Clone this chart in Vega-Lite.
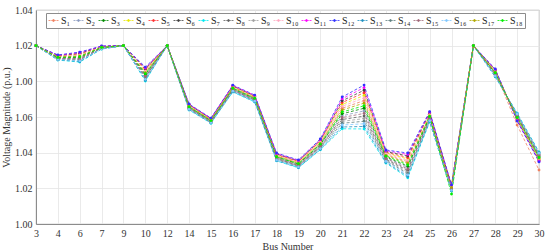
{
"$schema": "https://vega.github.io/schema/vega-lite/v6.json",
"width": 503, "height": 214,
"autosize": "none",
"padding": {"left": 36, "top": 10, "right": 11, "bottom": 28},
"config": {
  "view": {"stroke": "#8c8c8c", "strokeWidth": 0.8},
  "font": "Liberation Serif",
  "axis": {"labelFont": "Liberation Serif", "titleFont": "Liberation Serif", "labelFontSize": 10, "titleFontSize": 10, "labelColor": "#333", "titleColor": "#333", "titleFontWeight": "normal", "gridColor": "#e4e4e4", "gridWidth": 0.8, "domainColor": "#8c8c8c", "ticks": false, "labelPadding": 4}
},
"data": {"values": [
{"s":"S₁","b":3,"v":1.1},{"s":"S₁","b":4,"v":1.0938},{"s":"S₁","b":6,"v":1.0944},{"s":"S₁","b":7,"v":1.0992},{"s":"S₁","b":9,"v":1.1},{"s":"S₁","b":10,"v":1.0852},{"s":"S₁","b":12,"v":1.1},{"s":"S₁","b":14,"v":1.0661},{"s":"S₁","b":15,"v":1.0584},{"s":"S₁","b":16,"v":1.0765},{"s":"S₁","b":17,"v":1.0709},{"s":"S₁","b":18,"v":1.0382},{"s":"S₁","b":19,"v":1.0343},{"s":"S₁","b":20,"v":1.0455},{"s":"S₁","b":21,"v":1.0649},{"s":"S₁","b":22,"v":1.0692},{"s":"S₁","b":23,"v":1.0389},{"s":"S₁","b":24,"v":1.0349},{"s":"S₁","b":25,"v":1.061},{"s":"S₁","b":26,"v":1.0207},{"s":"S₁","b":27,"v":1.1},{"s":"S₁","b":28,"v":1.0853},{"s":"S₁","b":29,"v":1.0555},{"s":"S₁","b":30,"v":1.0303},
{"s":"S₂","b":3,"v":1.1},{"s":"S₂","b":4,"v":1.0931},{"s":"S₂","b":6,"v":1.0931},{"s":"S₂","b":7,"v":1.0988},{"s":"S₂","b":9,"v":1.1},{"s":"S₂","b":10,"v":1.0834},{"s":"S₂","b":12,"v":1.1},{"s":"S₂","b":14,"v":1.0653},{"s":"S₂","b":15,"v":1.0577},{"s":"S₂","b":16,"v":1.0756},{"s":"S₂","b":17,"v":1.07},{"s":"S₂","b":18,"v":1.0372},{"s":"S₂","b":19,"v":1.0333},{"s":"S₂","b":20,"v":1.0441},{"s":"S₂","b":21,"v":1.0607},{"s":"S₂","b":22,"v":1.0634},{"s":"S₂","b":23,"v":1.0372},{"s":"S₂","b":24,"v":1.0316},{"s":"S₂","b":25,"v":1.0596},{"s":"S₂","b":26,"v":1.0199},{"s":"S₂","b":27,"v":1.1},{"s":"S₂","b":28,"v":1.0843},{"s":"S₂","b":29,"v":1.0603},{"s":"S₂","b":30,"v":1.038},
{"s":"S₃","b":3,"v":1.1},{"s":"S₃","b":4,"v":1.0933},{"s":"S₃","b":6,"v":1.0934},{"s":"S₃","b":7,"v":1.0989},{"s":"S₃","b":9,"v":1.1},{"s":"S₃","b":10,"v":1.0839},{"s":"S₃","b":12,"v":1.1},{"s":"S₃","b":14,"v":1.0655},{"s":"S₃","b":15,"v":1.0579},{"s":"S₃","b":16,"v":1.0758},{"s":"S₃","b":17,"v":1.0702},{"s":"S₃","b":18,"v":1.0375},{"s":"S₃","b":19,"v":1.0336},{"s":"S₃","b":20,"v":1.0445},{"s":"S₃","b":21,"v":1.0618},{"s":"S₃","b":22,"v":1.0649},{"s":"S₃","b":23,"v":1.0376},{"s":"S₃","b":24,"v":1.0324},{"s":"S₃","b":25,"v":1.0599},{"s":"S₃","b":26,"v":1.0201},{"s":"S₃","b":27,"v":1.1},{"s":"S₃","b":28,"v":1.0846},{"s":"S₃","b":29,"v":1.06},{"s":"S₃","b":30,"v":1.0376},
{"s":"S₄","b":3,"v":1.1},{"s":"S₄","b":4,"v":1.0941},{"s":"S₄","b":6,"v":1.0951},{"s":"S₄","b":7,"v":1.0994},{"s":"S₄","b":9,"v":1.1},{"s":"S₄","b":10,"v":1.0862},{"s":"S₄","b":12,"v":1.1},{"s":"S₄","b":14,"v":1.0665},{"s":"S₄","b":15,"v":1.0587},{"s":"S₄","b":16,"v":1.077},{"s":"S₄","b":17,"v":1.0714},{"s":"S₄","b":18,"v":1.0388},{"s":"S₄","b":19,"v":1.0349},{"s":"S₄","b":20,"v":1.0463},{"s":"S₄","b":21,"v":1.067},{"s":"S₄","b":22,"v":1.0721},{"s":"S₄","b":23,"v":1.0398},{"s":"S₄","b":24,"v":1.0365},{"s":"S₄","b":25,"v":1.0616},{"s":"S₄","b":26,"v":1.0211},{"s":"S₄","b":27,"v":1.1},{"s":"S₄","b":28,"v":1.0859},{"s":"S₄","b":29,"v":1.0589},{"s":"S₄","b":30,"v":1.0362},
{"s":"S₅","b":3,"v":1.1},{"s":"S₅","b":4,"v":1.0943},{"s":"S₅","b":6,"v":1.0954},{"s":"S₅","b":7,"v":1.0995},{"s":"S₅","b":9,"v":1.1},{"s":"S₅","b":10,"v":1.0866},{"s":"S₅","b":12,"v":1.1},{"s":"S₅","b":14,"v":1.0667},{"s":"S₅","b":15,"v":1.0589},{"s":"S₅","b":16,"v":1.0772},{"s":"S₅","b":17,"v":1.0716},{"s":"S₅","b":18,"v":1.039},{"s":"S₅","b":19,"v":1.0351},{"s":"S₅","b":20,"v":1.0466},{"s":"S₅","b":21,"v":1.0681},{"s":"S₅","b":22,"v":1.0736},{"s":"S₅","b":23,"v":1.0402},{"s":"S₅","b":24,"v":1.0373},{"s":"S₅","b":25,"v":1.062},{"s":"S₅","b":26,"v":1.0213},{"s":"S₅","b":27,"v":1.1},{"s":"S₅","b":28,"v":1.0861},{"s":"S₅","b":29,"v":1.0586},{"s":"S₅","b":30,"v":1.0359},
{"s":"S₆","b":3,"v":1.1},{"s":"S₆","b":4,"v":1.0945},{"s":"S₆","b":6,"v":1.0957},{"s":"S₆","b":7,"v":1.0996},{"s":"S₆","b":9,"v":1.1},{"s":"S₆","b":10,"v":1.0871},{"s":"S₆","b":12,"v":1.1},{"s":"S₆","b":14,"v":1.0669},{"s":"S₆","b":15,"v":1.0591},{"s":"S₆","b":16,"v":1.0774},{"s":"S₆","b":17,"v":1.0718},{"s":"S₆","b":18,"v":1.0393},{"s":"S₆","b":19,"v":1.0354},{"s":"S₆","b":20,"v":1.047},{"s":"S₆","b":21,"v":1.0691},{"s":"S₆","b":22,"v":1.075},{"s":"S₆","b":23,"v":1.0406},{"s":"S₆","b":24,"v":1.0382},{"s":"S₆","b":25,"v":1.0623},{"s":"S₆","b":26,"v":1.0215},{"s":"S₆","b":27,"v":1.1},{"s":"S₆","b":28,"v":1.0864},{"s":"S₆","b":29,"v":1.0584},{"s":"S₆","b":30,"v":1.0355},
{"s":"S₇","b":3,"v":1.1},{"s":"S₇","b":4,"v":1.0919},{"s":"S₇","b":6,"v":1.0908},{"s":"S₇","b":7,"v":1.0981},{"s":"S₇","b":9,"v":1.1},{"s":"S₇","b":10,"v":1.0802},{"s":"S₇","b":12,"v":1.1},{"s":"S₇","b":14,"v":1.0639},{"s":"S₇","b":15,"v":1.0565},{"s":"S₇","b":16,"v":1.074},{"s":"S₇","b":17,"v":1.0684},{"s":"S₇","b":18,"v":1.0354},{"s":"S₇","b":19,"v":1.0315},{"s":"S₇","b":20,"v":1.0416},{"s":"S₇","b":21,"v":1.0534},{"s":"S₇","b":22,"v":1.0533},{"s":"S₇","b":23,"v":1.0342},{"s":"S₇","b":24,"v":1.0259},{"s":"S₇","b":25,"v":1.0572},{"s":"S₇","b":26,"v":1.0185},{"s":"S₇","b":27,"v":1.1},{"s":"S₇","b":28,"v":1.0825},{"s":"S₇","b":29,"v":1.0622},{"s":"S₇","b":30,"v":1.0404},
{"s":"S₈","b":3,"v":1.1},{"s":"S₈","b":4,"v":1.0928},{"s":"S₈","b":6,"v":1.0924},{"s":"S₈","b":7,"v":1.0986},{"s":"S₈","b":9,"v":1.1},{"s":"S₈","b":10,"v":1.0825},{"s":"S₈","b":12,"v":1.1},{"s":"S₈","b":14,"v":1.0649},{"s":"S₈","b":15,"v":1.0574},{"s":"S₈","b":16,"v":1.0751},{"s":"S₈","b":17,"v":1.0695},{"s":"S₈","b":18,"v":1.0367},{"s":"S₈","b":19,"v":1.0328},{"s":"S₈","b":20,"v":1.0434},{"s":"S₈","b":21,"v":1.0586},{"s":"S₈","b":22,"v":1.0605},{"s":"S₈","b":23,"v":1.0363},{"s":"S₈","b":24,"v":1.03},{"s":"S₈","b":25,"v":1.0589},{"s":"S₈","b":26,"v":1.0195},{"s":"S₈","b":27,"v":1.1},{"s":"S₈","b":28,"v":1.0838},{"s":"S₈","b":29,"v":1.0608},{"s":"S₈","b":30,"v":1.0387},
{"s":"S₉","b":3,"v":1.1},{"s":"S₉","b":4,"v":1.0926},{"s":"S₉","b":6,"v":1.0921},{"s":"S₉","b":7,"v":1.0985},{"s":"S₉","b":9,"v":1.1},{"s":"S₉","b":10,"v":1.082},{"s":"S₉","b":12,"v":1.1},{"s":"S₉","b":14,"v":1.0647},{"s":"S₉","b":15,"v":1.0572},{"s":"S₉","b":16,"v":1.0749},{"s":"S₉","b":17,"v":1.0693},{"s":"S₉","b":18,"v":1.0364},{"s":"S₉","b":19,"v":1.0325},{"s":"S₉","b":20,"v":1.043},{"s":"S₉","b":21,"v":1.0576},{"s":"S₉","b":22,"v":1.0591},{"s":"S₉","b":23,"v":1.0359},{"s":"S₉","b":24,"v":1.0291},{"s":"S₉","b":25,"v":1.0586},{"s":"S₉","b":26,"v":1.0193},{"s":"S₉","b":27,"v":1.1},{"s":"S₉","b":28,"v":1.0835},{"s":"S₉","b":29,"v":1.0611},{"s":"S₉","b":30,"v":1.039},
{"s":"S₁₀","b":3,"v":1.1},{"s":"S₁₀","b":4,"v":1.094},{"s":"S₁₀","b":6,"v":1.0948},{"s":"S₁₀","b":7,"v":1.0993},{"s":"S₁₀","b":9,"v":1.1},{"s":"S₁₀","b":10,"v":1.0857},{"s":"S₁₀","b":12,"v":1.1},{"s":"S₁₀","b":14,"v":1.0663},{"s":"S₁₀","b":15,"v":1.0586},{"s":"S₁₀","b":16,"v":1.0768},{"s":"S₁₀","b":17,"v":1.0712},{"s":"S₁₀","b":18,"v":1.0385},{"s":"S₁₀","b":19,"v":1.0346},{"s":"S₁₀","b":20,"v":1.0459},{"s":"S₁₀","b":21,"v":1.066},{"s":"S₁₀","b":22,"v":1.0707},{"s":"S₁₀","b":23,"v":1.0394},{"s":"S₁₀","b":24,"v":1.0357},{"s":"S₁₀","b":25,"v":1.0613},{"s":"S₁₀","b":26,"v":1.0209},{"s":"S₁₀","b":27,"v":1.1},{"s":"S₁₀","b":28,"v":1.0856},{"s":"S₁₀","b":29,"v":1.0592},{"s":"S₁₀","b":30,"v":1.0366},
{"s":"S₁₁","b":3,"v":1.1},{"s":"S₁₁","b":4,"v":1.0946},{"s":"S₁₁","b":6,"v":1.0961},{"s":"S₁₁","b":7,"v":1.0997},{"s":"S₁₁","b":9,"v":1.1},{"s":"S₁₁","b":10,"v":1.0875},{"s":"S₁₁","b":12,"v":1.1},{"s":"S₁₁","b":14,"v":1.0671},{"s":"S₁₁","b":15,"v":1.0592},{"s":"S₁₁","b":16,"v":1.0777},{"s":"S₁₁","b":17,"v":1.0721},{"s":"S₁₁","b":18,"v":1.0395},{"s":"S₁₁","b":19,"v":1.0356},{"s":"S₁₁","b":20,"v":1.0473},{"s":"S₁₁","b":21,"v":1.0702},{"s":"S₁₁","b":22,"v":1.0765},{"s":"S₁₁","b":23,"v":1.0411},{"s":"S₁₁","b":24,"v":1.039},{"s":"S₁₁","b":25,"v":1.0627},{"s":"S₁₁","b":26,"v":1.0217},{"s":"S₁₁","b":27,"v":1.1},{"s":"S₁₁","b":28,"v":1.0866},{"s":"S₁₁","b":29,"v":1.0581},{"s":"S₁₁","b":30,"v":1.0352},
{"s":"S₁₂","b":3,"v":1.1},{"s":"S₁₂","b":4,"v":1.0948},{"s":"S₁₂","b":6,"v":1.0964},{"s":"S₁₂","b":7,"v":1.0998},{"s":"S₁₂","b":9,"v":1.1},{"s":"S₁₂","b":10,"v":1.088},{"s":"S₁₂","b":12,"v":1.1},{"s":"S₁₂","b":14,"v":1.0673},{"s":"S₁₂","b":15,"v":1.0594},{"s":"S₁₂","b":16,"v":1.0779},{"s":"S₁₂","b":17,"v":1.0723},{"s":"S₁₂","b":18,"v":1.0398},{"s":"S₁₂","b":19,"v":1.0359},{"s":"S₁₂","b":20,"v":1.0477},{"s":"S₁₂","b":21,"v":1.0712},{"s":"S₁₂","b":22,"v":1.0779},{"s":"S₁₂","b":23,"v":1.0415},{"s":"S₁₂","b":24,"v":1.0398},{"s":"S₁₂","b":25,"v":1.063},{"s":"S₁₂","b":26,"v":1.0219},{"s":"S₁₂","b":27,"v":1.1},{"s":"S₁₂","b":28,"v":1.0869},{"s":"S₁₂","b":29,"v":1.0578},{"s":"S₁₂","b":30,"v":1.0348},
{"s":"S₁₃","b":3,"v":1.1},{"s":"S₁₃","b":4,"v":1.0921},{"s":"S₁₃","b":6,"v":1.0911},{"s":"S₁₃","b":7,"v":1.0982},{"s":"S₁₃","b":9,"v":1.1},{"s":"S₁₃","b":10,"v":1.0806},{"s":"S₁₃","b":12,"v":1.1},{"s":"S₁₃","b":14,"v":1.0641},{"s":"S₁₃","b":15,"v":1.0567},{"s":"S₁₃","b":16,"v":1.0742},{"s":"S₁₃","b":17,"v":1.0686},{"s":"S₁₃","b":18,"v":1.0356},{"s":"S₁₃","b":19,"v":1.0317},{"s":"S₁₃","b":20,"v":1.0419},{"s":"S₁₃","b":21,"v":1.0544},{"s":"S₁₃","b":22,"v":1.0547},{"s":"S₁₃","b":23,"v":1.0346},{"s":"S₁₃","b":24,"v":1.0267},{"s":"S₁₃","b":25,"v":1.0576},{"s":"S₁₃","b":26,"v":1.0187},{"s":"S₁₃","b":27,"v":1.1},{"s":"S₁₃","b":28,"v":1.0827},{"s":"S₁₃","b":29,"v":1.0619},{"s":"S₁₃","b":30,"v":1.0401},
{"s":"S₁₄","b":3,"v":1.1},{"s":"S₁₄","b":4,"v":1.0924},{"s":"S₁₄","b":6,"v":1.0918},{"s":"S₁₄","b":7,"v":1.0984},{"s":"S₁₄","b":9,"v":1.1},{"s":"S₁₄","b":10,"v":1.0816},{"s":"S₁₄","b":12,"v":1.1},{"s":"S₁₄","b":14,"v":1.0645},{"s":"S₁₄","b":15,"v":1.057},{"s":"S₁₄","b":16,"v":1.0747},{"s":"S₁₄","b":17,"v":1.0691},{"s":"S₁₄","b":18,"v":1.0362},{"s":"S₁₄","b":19,"v":1.0323},{"s":"S₁₄","b":20,"v":1.0427},{"s":"S₁₄","b":21,"v":1.0565},{"s":"S₁₄","b":22,"v":1.0576},{"s":"S₁₄","b":23,"v":1.0355},{"s":"S₁₄","b":24,"v":1.0283},{"s":"S₁₄","b":25,"v":1.0582},{"s":"S₁₄","b":26,"v":1.0191},{"s":"S₁₄","b":27,"v":1.1},{"s":"S₁₄","b":28,"v":1.0833},{"s":"S₁₄","b":29,"v":1.0614},{"s":"S₁₄","b":30,"v":1.0394},
{"s":"S₁₅","b":3,"v":1.1},{"s":"S₁₅","b":4,"v":1.0929},{"s":"S₁₅","b":6,"v":1.0928},{"s":"S₁₅","b":7,"v":1.0987},{"s":"S₁₅","b":9,"v":1.1},{"s":"S₁₅","b":10,"v":1.0829},{"s":"S₁₅","b":12,"v":1.1},{"s":"S₁₅","b":14,"v":1.0651},{"s":"S₁₅","b":15,"v":1.0575},{"s":"S₁₅","b":16,"v":1.0754},{"s":"S₁₅","b":17,"v":1.0698},{"s":"S₁₅","b":18,"v":1.0369},{"s":"S₁₅","b":19,"v":1.033},{"s":"S₁₅","b":20,"v":1.0437},{"s":"S₁₅","b":21,"v":1.0597},{"s":"S₁₅","b":22,"v":1.062},{"s":"S₁₅","b":23,"v":1.0368},{"s":"S₁₅","b":24,"v":1.0308},{"s":"S₁₅","b":25,"v":1.0593},{"s":"S₁₅","b":26,"v":1.0197},{"s":"S₁₅","b":27,"v":1.1},{"s":"S₁₅","b":28,"v":1.084},{"s":"S₁₅","b":29,"v":1.0606},{"s":"S₁₅","b":30,"v":1.0383},
{"s":"S₁₆","b":3,"v":1.1},{"s":"S₁₆","b":4,"v":1.0923},{"s":"S₁₆","b":6,"v":1.0915},{"s":"S₁₆","b":7,"v":1.0983},{"s":"S₁₆","b":9,"v":1.1},{"s":"S₁₆","b":10,"v":1.0811},{"s":"S₁₆","b":12,"v":1.1},{"s":"S₁₆","b":14,"v":1.0643},{"s":"S₁₆","b":15,"v":1.0569},{"s":"S₁₆","b":16,"v":1.0745},{"s":"S₁₆","b":17,"v":1.0689},{"s":"S₁₆","b":18,"v":1.0359},{"s":"S₁₆","b":19,"v":1.032},{"s":"S₁₆","b":20,"v":1.0423},{"s":"S₁₆","b":21,"v":1.0555},{"s":"S₁₆","b":22,"v":1.0562},{"s":"S₁₆","b":23,"v":1.0351},{"s":"S₁₆","b":24,"v":1.0275},{"s":"S₁₆","b":25,"v":1.0579},{"s":"S₁₆","b":26,"v":1.0189},{"s":"S₁₆","b":27,"v":1.1},{"s":"S₁₆","b":28,"v":1.083},{"s":"S₁₆","b":29,"v":1.0617},{"s":"S₁₆","b":30,"v":1.0397},
{"s":"S₁₇","b":3,"v":1.1},{"s":"S₁₇","b":4,"v":1.0936},{"s":"S₁₇","b":6,"v":1.0941},{"s":"S₁₇","b":7,"v":1.0991},{"s":"S₁₇","b":9,"v":1.1},{"s":"S₁₇","b":10,"v":1.0848},{"s":"S₁₇","b":12,"v":1.1},{"s":"S₁₇","b":14,"v":1.0659},{"s":"S₁₇","b":15,"v":1.0582},{"s":"S₁₇","b":16,"v":1.0763},{"s":"S₁₇","b":17,"v":1.0707},{"s":"S₁₇","b":18,"v":1.038},{"s":"S₁₇","b":19,"v":1.0341},{"s":"S₁₇","b":20,"v":1.0452},{"s":"S₁₇","b":21,"v":1.0639},{"s":"S₁₇","b":22,"v":1.0678},{"s":"S₁₇","b":23,"v":1.0385},{"s":"S₁₇","b":24,"v":1.0341},{"s":"S₁₇","b":25,"v":1.0606},{"s":"S₁₇","b":26,"v":1.0205},{"s":"S₁₇","b":27,"v":1.1},{"s":"S₁₇","b":28,"v":1.0851},{"s":"S₁₇","b":29,"v":1.0595},{"s":"S₁₇","b":30,"v":1.0369},
{"s":"S₁₈","b":3,"v":1.1},{"s":"S₁₈","b":4,"v":1.0934},{"s":"S₁₈","b":6,"v":1.0938},{"s":"S₁₈","b":7,"v":1.099},{"s":"S₁₈","b":9,"v":1.1},{"s":"S₁₈","b":10,"v":1.0843},{"s":"S₁₈","b":12,"v":1.1},{"s":"S₁₈","b":14,"v":1.0657},{"s":"S₁₈","b":15,"v":1.058},{"s":"S₁₈","b":16,"v":1.0761},{"s":"S₁₈","b":17,"v":1.0705},{"s":"S₁₈","b":18,"v":1.0377},{"s":"S₁₈","b":19,"v":1.0338},{"s":"S₁₈","b":20,"v":1.0448},{"s":"S₁₈","b":21,"v":1.0628},{"s":"S₁₈","b":22,"v":1.0663},{"s":"S₁₈","b":23,"v":1.0381},{"s":"S₁₈","b":24,"v":1.0332},{"s":"S₁₈","b":25,"v":1.0603},{"s":"S₁₈","b":26,"v":1.0168},{"s":"S₁₈","b":27,"v":1.1},{"s":"S₁₈","b":28,"v":1.0848},{"s":"S₁₈","b":29,"v":1.0597},{"s":"S₁₈","b":30,"v":1.0373}
]},
"encoding": {
  "x": {"field": "b", "type": "ordinal", "title": "Bus Number", "scale": {"type": "point", "padding": 0}, "axis": {"labelAngle": 0, "grid": true, "titlePadding": 3}},
  "y": {"field": "v", "type": "quantitative", "title": "Voltage Magnitude (p.u.)", "scale": {"domain": [1.0, 1.12], "nice": false, "zero": false}, "axis": {"values": [1.0, 1.02, 1.04, 1.06, 1.08, 1.1, 1.12], "labelExpr": "datum.value > 1.07 ? format(datum.value - 0.08, '.2f') : format(datum.value, '.2f')", "titlePadding": 3, "grid": true}},
  "color": {"field": "s", "type": "nominal",
    "scale": {"domain": ["S₁","S₂","S₃","S₄","S₅","S₆","S₇","S₈","S₉","S₁₀","S₁₁","S₁₂","S₁₃","S₁₄","S₁₅","S₁₆","S₁₇","S₁₈"],
              "range": ["#f08060","#8a9ac0","#008a00","#e8e800","#ff3030","#404040","#00e8f0","#606060","#a0a0a0","#ffa8c0","#ff00ff","#3030ff","#2090c0","#608080","#a06878","#80c8ff","#b0a800","#00ee00"]},
    "legend": {"orient": "none", "legendX": 10, "legendY": 3, "direction": "horizontal", "columns": 18, "gridAlign": "none", "title": null,
      "symbolType": "M-1,0H-0.6M-0.45,0H-0.22M0.22,0H0.45M0.6,0H1M-0.2,0A0.2,0.2,0,1,1,0.2,0A0.2,0.2,0,1,1,-0.2,0",
      "symbolSize": 100, "symbolStrokeWidth": 0.8, "symbolFillColor": "transparent",
      "labelFont": "Liberation Serif", "labelFontSize": 10, "labelColor": "#222", "labelOffset": 2, "columnPadding": 0,
      "padding": 2, "strokeColor": "#8c8c8c", "fillColor": "white"}}
},
"layer": [
  {"mark": {"type": "line", "strokeWidth": 0.8, "strokeDash": [3, 2]}},
  {"mark": {"type": "circle", "size": 8, "opacity": 1}}
]
}
